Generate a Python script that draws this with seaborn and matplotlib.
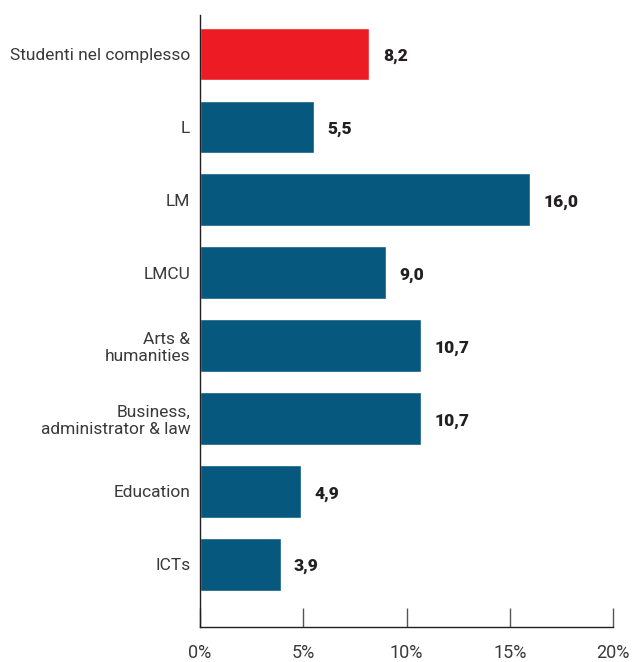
import matplotlib
matplotlib.use("Agg")
import matplotlib.pyplot as plt
import seaborn as sns
import pandas as pd

categories = [
    "Studenti nel complesso",
    "L",
    "LM",
    "LMCU",
    "Arts &\nhumanities",
    "Business,\nadministrator & law",
    "Education",
    "ICTs",
]
values = [8.2, 5.5, 16.0, 9.0, 10.7, 10.7, 4.9, 3.9]
bar_colors = ["#ED1C24"] + ["#07587E"] * 7
xticks = [0, 5, 10, 15, 20]
xtick_labels = ["0%", "5%", "10%", "15%", "20%"]

sns.set_theme(style="white")
plt.rcParams["font.family"] = ["Roboto", "DejaVu Sans"]

df = pd.DataFrame({"cat": categories, "val": values})

fig = plt.figure(figsize=(6.34, 6.62), dpi=100)
ax = fig.add_axes([0.3155, 0.0529, 0.6515, 0.9241])

sns.barplot(data=df, x="val", y="cat", hue="cat", palette=bar_colors,
            legend=False, width=0.72, saturation=1, ax=ax)

for i, v in enumerate(values):
    ax.text(v + 0.65, i + 0.03, f"{v:.1f}".replace(".", ","), va="center",
            ha="left", fontsize=12.5, fontweight="heavy", color="#231F20")

ax.set_xlim(0, 20)
ax.set_ylim(7.86, -0.53)
ax.set_xticks(xticks)
ax.set_xticklabels(xtick_labels)
ax.set_xlabel("")
ax.set_ylabel("")

for side in ["top", "right"]:
    ax.spines[side].set_visible(False)
for side in ["left", "bottom"]:
    ax.spines[side].set_color("#231F20")
    ax.spines[side].set_linewidth(1.0)

ax.tick_params(axis="x", bottom=True, direction="in", length=14, width=1,
               color="#555555", pad=12, labelsize=13, labelcolor="#3A3A3A")
ax.tick_params(axis="y", left=False, length=0, pad=7, labelsize=12.5,
               labelcolor="#3A3A3A")
for lbl in ax.get_yticklabels():
    lbl.set_multialignment("right")

fig.savefig("out.png", dpi=100)
